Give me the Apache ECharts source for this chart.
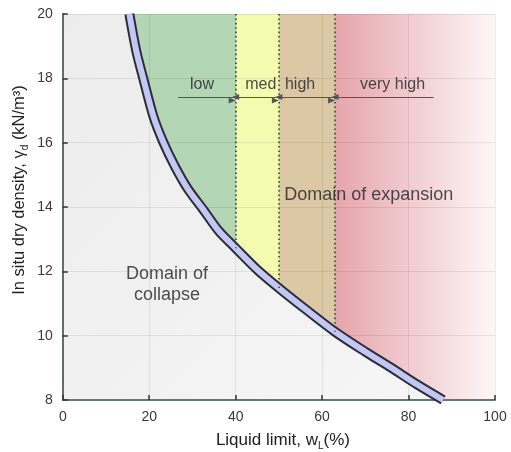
<!DOCTYPE html>
<html><head><meta charset="utf-8">
<script src="https://cdn.jsdelivr.net/npm/echarts@6/dist/echarts.min.js"></script>
<style>html,body{margin:0;padding:0;background:#fff}#c{width:511px;height:452px}</style>
</head><body><div id="c"></div>
<script>
// ---- data ----
const xTicks = [0, 20, 40, 60, 80, 100];
const yTicks = [8, 10, 12, 14, 16, 18, 20];
// boundary curve (liquid limit vs dry density)
const curveX = [15.4, 17, 18.7, 21, 23.3, 26, 29, 32.6, 36, 40, 45, 50, 56, 63, 70, 76, 82, 88];
const curveY = [20, 18.85, 17.95, 16.8, 16.0, 15.25, 14.55, 13.9, 13.27, 12.72, 12.05, 11.48, 10.84, 10.12, 9.5, 9.0, 8.48, 8.0];
// class boundaries (liquid limit) and where they meet the curve
const classBounds = [40, 50, 63];
const classBoundY = [12.72, 11.48, 10.12];
// expansion classes, arrows and labels
const classNames = ['low', 'med', 'high', 'very high'];
const arrowStart = [26.7, 40, 50, 63];
const arrowEnd = [40, 50, 63, 85.8];
const arrowStartHead = [false, true, true, true];
const arrowEndHead = [true, true, true, false];
const arrowY = 17.42;
const classLabelX = [32.2, 45.8, 54.9, 76.3];
const classLabelY = 17.8;
// domain texts
const domainNames = ['Domain of\ncollapse', 'Domain of expansion'];
const domainX = [24.1, 70.8];
const domainY = [11.6, 14.37];

// ---- styles ----
const FONT = '"Liberation Sans", Arial, Helvetica, sans-serif';
const zoneColors = ['#b3d6b4', '#f3fbb1', '#ddc8a6', '#e6a5ac'];
const zoneFade = '#fdf7f8';

const xMin = xTicks[0], xMax = xTicks[xTicks.length - 1];
const yMin = yTicks[0], yMax = yTicks[yTicks.length - 1];
const frac = v => (v - xMin) / (xMax - xMin);
const stops = [
  {offset: 0, color: zoneColors[0]},
  {offset: frac(classBounds[0]), color: zoneColors[0]},
  {offset: frac(classBounds[0]), color: zoneColors[1]},
  {offset: frac(classBounds[1]), color: zoneColors[1]},
  {offset: frac(classBounds[1]), color: zoneColors[2]},
  {offset: frac(classBounds[2]), color: zoneColors[2]},
  {offset: frac(classBounds[2]), color: zoneColors[3]},
  {offset: 1, color: zoneFade}
];
const curve = curveX.map((x, i) => [x, curveY[i]]);
const collapseRegion = [[xMin, yMax]].concat(curve);

const arrowLines = classNames.map((n, i) => [
  {coord: [arrowStart[i], arrowY], symbol: arrowStartHead[i] ? 'triangle' : 'none'},
  {coord: [arrowEnd[i], arrowY], symbol: arrowEndHead[i] ? 'triangle' : 'none'}
]);
const boundLines = classBounds.map((b, i) => [{coord: [b, yMax]}, {coord: [b, classBoundY[i]]}]);

const labelData = classNames.map((n, i) => ({name: n, value: [classLabelX[i], classLabelY]}));
const domainData = domainNames.map((n, i) => ({name: n, value: [domainX[i], domainY[i]]}));

const chart = echarts.init(document.getElementById('c'), null, {renderer: 'canvas'});
const option = {
  animation: false,
  backgroundColor: '#ffffff',
  grid: {
    show: true, left: 62.8, right: 16, top: 14, bottom: 52,
    borderWidth: 0, outerBoundsMode: 'none', containLabel: false,
    backgroundColor: new echarts.graphic.LinearGradient(0, 0, 1, 0, stops)
  },
  xAxis: {
    type: 'value', min: xMin, max: xMax, interval: xTicks[1] - xTicks[0], z: 3,
    axisLine: {show: true, onZero: false, lineStyle: {color: '#66767c', width: 2}},
    axisTick: {show: true, inside: true, length: 5, lineStyle: {color: '#333', width: 1.5}},
    axisLabel: {fontSize: 14, color: '#3a3a3a', margin: 10, fontFamily: FONT, showMinLabel: true, showMaxLabel: true},
    splitLine: {show: true, lineStyle: {color: 'rgba(0,0,0,0.08)', width: 1}},
    name: '{t|Liquid limit, w}{s|L}{t|(%)}',
    nameLocation: 'middle', nameGap: 29, nameMoveOverlap: false,
    nameTextStyle: {
      padding: [0, 0, 0, 8],
      rich: {
        t: {fontSize: 17, fontFamily: FONT, color: '#222', lineHeight: 22},
        s: {fontSize: 10, fontFamily: FONT, color: '#222', lineHeight: 11, verticalAlign: 'bottom'}
      }
    }
  },
  yAxis: {
    type: 'value', min: yMin, max: yMax, interval: yTicks[1] - yTicks[0], z: 3,
    axisLine: {show: true, onZero: false, lineStyle: {color: '#5d6d73', width: 2}},
    axisTick: {show: true, inside: true, length: 5, lineStyle: {color: '#333', width: 1.5}},
    axisLabel: {fontSize: 14, color: '#3a3a3a', margin: 10, fontFamily: FONT, showMinLabel: true, showMaxLabel: true},
    splitLine: {show: true, lineStyle: {color: 'rgba(0,0,0,0.08)', width: 1}},
    name: '{t|In situ dry density, γ}{s|d}{t| (kN/m³)}',
    nameLocation: 'middle', nameGap: 33, nameRotate: 90, nameMoveOverlap: false,
    nameTextStyle: {
      padding: [0, 0, 0, 34],
      rich: {
        t: {fontSize: 16.5, fontFamily: FONT, color: '#222', lineHeight: 21},
        s: {fontSize: 10, fontFamily: FONT, color: '#222', lineHeight: 10, verticalAlign: 'bottom'}
      }
    }
  },
  series: [
    {
      type: 'line', data: collapseRegion, smooth: false, symbol: 'none', silent: true, z: 2,
      lineStyle: {width: 0, opacity: 0},
      areaStyle: {origin: 'start', opacity: 1,
        color: new echarts.graphic.LinearGradient(0, 0, 1, 1, [
          {offset: 0, color: '#ececec'}, {offset: 1, color: '#f6f6f6'}])}
    },
    {
      type: 'line', data: [], z: 3, silent: true,
      markLine: {
        silent: true, symbol: 'none', label: {show: false}, animation: false,
        lineStyle: {type: [1.6, 2.8], width: 1.6, color: '#3f3f3f'},
        data: boundLines
      }
    },
    {
      type: 'line', data: curve, smooth: 0.3, symbol: 'none', silent: true, z: 4,
      lineStyle: {width: 10, color: '#2a2e35', cap: 'butt', join: 'round'}
    },
    {
      type: 'line', data: curve, smooth: 0.3, symbol: 'none', silent: true, z: 4,
      lineStyle: {width: 6, color: '#c4c7f6', cap: 'butt', join: 'round'}
    },
    {
      type: 'line', data: [], z: 5, silent: true,
      markLine: {
        silent: true, label: {show: false}, animation: false,
        symbolSize: [6, 7], symbolOffset: [0, 3.5],
        itemStyle: {color: '#333'},
        lineStyle: {type: 'solid', width: 1, color: '#555'},
        data: arrowLines
      }
    },
    {
      type: 'scatter', data: labelData, symbolSize: 0, silent: true, z: 6,
      label: {show: true, position: 'inside', formatter: '{b}', fontSize: 16, fontFamily: FONT, color: '#222'}
    },
    {
      type: 'scatter', data: domainData, symbolSize: 0, silent: true, z: 6,
      label: {show: true, position: 'inside', formatter: '{b}', fontSize: 18, lineHeight: 21, fontFamily: FONT, color: '#222', align: 'center'}
    }
  ]
};
chart.setOption(option);
</script></body></html>
